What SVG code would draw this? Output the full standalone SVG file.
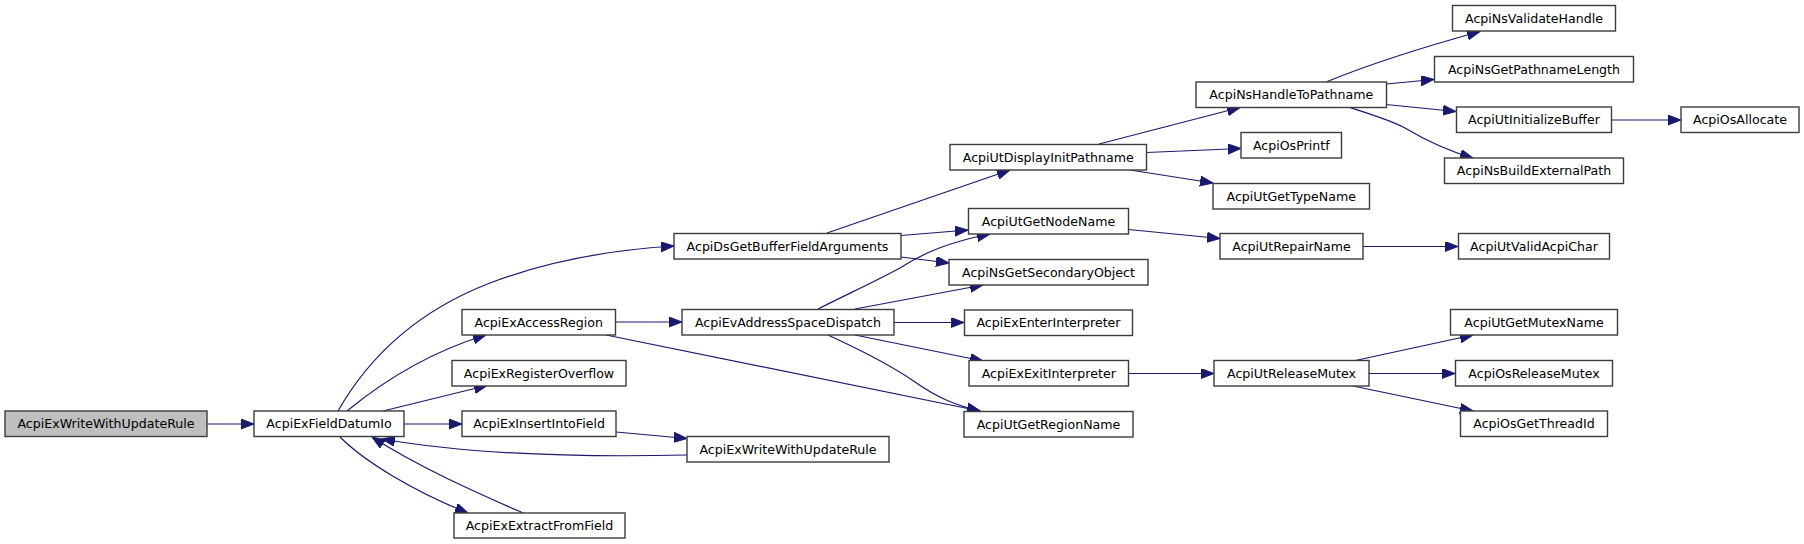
<svg xmlns="http://www.w3.org/2000/svg" width="1804" height="544" viewBox="0 0 1804 544">
<defs>
<marker id="ah" markerUnits="userSpaceOnUse" markerWidth="14" markerHeight="12" refX="13" refY="5" orient="auto">
<path d="M0,0 L13,5 L0,10 Z" fill="#191970" stroke="#191970" stroke-width="1"/>
</marker>
<style>
.n rect{fill:#ffffff;stroke:#3c3c3c;stroke-width:1.4}
.n.root rect{fill:#bfbfbf}
.n text{font-family:"DejaVu Sans",sans-serif;font-size:12.6px;fill:#000;text-anchor:middle}
#edges path{fill:none;stroke:#191970;stroke-width:1.2;marker-end:url(#ah)}
</style>
</defs>
<rect width="1804" height="544" fill="#ffffff"/>
<g id="edges">
<path d="M207,424 L254,424"/>
<path d="M338,411 C370,355 420,310 490,283 C550,260 610,250 674,246"/>
<path d="M347,411 C375,388 420,355 486,335"/>
<path d="M383,411 L487,385.5"/>
<path d="M404,424 L462,424"/>
<path d="M687,455 C600,457 480,456 382,439"/>
<path d="M340,437 C365,462 415,492 468,513"/>
<path d="M523,513 C480,494 420,468 372,437"/>
<path d="M616,432 L687,438.5"/>
<path d="M615.5,322 L682,322"/>
<path d="M606,335 L980,411"/>
<path d="M828,335 C865,352 895,368 915,382 C938,398 955,405 980,411"/>
<path d="M855,335 L983,361"/>
<path d="M894,322.5 L964,322.5"/>
<path d="M855,309 L983,285"/>
<path d="M818,309 C850,293 878,280 900,268 C925,252 950,242 990,234"/>
<path d="M827,233 L1010,170"/>
<path d="M901,235.5 L968,230"/>
<path d="M901,257 L949,263"/>
<path d="M1099,144 L1240,107.5"/>
<path d="M1146.5,152.5 L1241,148.5"/>
<path d="M1130,170 L1213,183"/>
<path d="M1128.5,229.5 L1220,238.5"/>
<path d="M1363,246.5 L1458,246.5"/>
<path d="M1128.5,373.5 L1214,373.5"/>
<path d="M1353,361 L1473,335"/>
<path d="M1369,373.5 L1455,373.5"/>
<path d="M1353,386 L1473,411"/>
<path d="M1326,82 C1370,64 1420,48 1480,31.5"/>
<path d="M1386,84 L1434,79.5"/>
<path d="M1386,104.5 L1456,111.5"/>
<path d="M1348,107 C1370,114 1390,120 1405,128 C1425,140 1445,150 1473,158"/>
<path d="M1611,120 L1681,120"/>
</g>
<g id="root" class="n root"><rect x="5" y="411" width="202" height="25.5"/><text x="106" y="428">AcpiExWriteWithUpdateRule</text></g>
<g id="fieldDatumIo" class="n"><rect x="254" y="411" width="150" height="25.5"/><text x="329" y="428">AcpiExFieldDatumIo</text></g>
<g id="dsGetBufferFieldArguments" class="n"><rect x="674" y="233.5" width="227" height="25.5"/><text x="787.5" y="250.5">AcpiDsGetBufferFieldArguments</text></g>
<g id="exAccessRegion" class="n"><rect x="462" y="309.5" width="153.5" height="25.5"/><text x="538.75" y="326.5">AcpiExAccessRegion</text></g>
<g id="exRegisterOverflow" class="n"><rect x="452" y="360.5" width="174" height="25.5"/><text x="539" y="377.5">AcpiExRegisterOverflow</text></g>
<g id="exInsertIntoField" class="n"><rect x="462" y="411" width="154" height="25.5"/><text x="539" y="428">AcpiExInsertIntoField</text></g>
<g id="exExtractFromField" class="n"><rect x="454" y="513" width="171" height="25"/><text x="539.5" y="530">AcpiExExtractFromField</text></g>
<g id="exWriteWithUpdateRule2" class="n"><rect x="687" y="436.5" width="202" height="25.5"/><text x="788" y="453.5">AcpiExWriteWithUpdateRule</text></g>
<g id="evAddressSpaceDispatch" class="n"><rect x="682" y="309.5" width="212" height="25.5"/><text x="788" y="326.5">AcpiEvAddressSpaceDispatch</text></g>
<g id="utDisplayInitPathname" class="n"><rect x="950" y="144.5" width="196.5" height="25.5"/><text x="1048.25" y="161.5">AcpiUtDisplayInitPathname</text></g>
<g id="utGetNodeName" class="n"><rect x="968.5" y="208.5" width="160" height="25.5"/><text x="1048.5" y="225.5">AcpiUtGetNodeName</text></g>
<g id="nsGetSecondaryObject" class="n"><rect x="949" y="259.5" width="199" height="25.5"/><text x="1048.5" y="276.5">AcpiNsGetSecondaryObject</text></g>
<g id="exEnterInterpreter" class="n"><rect x="964.5" y="310" width="168" height="25.5"/><text x="1048.5" y="327">AcpiExEnterInterpreter</text></g>
<g id="exExitInterpreter" class="n"><rect x="969" y="360.5" width="159.5" height="25.5"/><text x="1048.75" y="377.5">AcpiExExitInterpreter</text></g>
<g id="utGetRegionName" class="n"><rect x="964" y="411.5" width="169" height="25.5"/><text x="1048.5" y="428.5">AcpiUtGetRegionName</text></g>
<g id="nsHandleToPathname" class="n"><rect x="1196" y="82" width="190.5" height="25.5"/><text x="1291.25" y="99">AcpiNsHandleToPathname</text></g>
<g id="osPrintf" class="n"><rect x="1241" y="132.5" width="100.5" height="25.5"/><text x="1291.25" y="149.5">AcpiOsPrintf</text></g>
<g id="utGetTypeName" class="n"><rect x="1213" y="183.5" width="156.5" height="25.5"/><text x="1291.25" y="200.5">AcpiUtGetTypeName</text></g>
<g id="utRepairName" class="n"><rect x="1220" y="233.5" width="143" height="25.5"/><text x="1291.5" y="250.5">AcpiUtRepairName</text></g>
<g id="utReleaseMutex" class="n"><rect x="1214" y="360.5" width="155" height="25.5"/><text x="1291.5" y="377.5">AcpiUtReleaseMutex</text></g>
<g id="nsValidateHandle" class="n"><rect x="1452.5" y="5.5" width="163" height="25.5"/><text x="1534" y="22.5">AcpiNsValidateHandle</text></g>
<g id="nsGetPathnameLength" class="n"><rect x="1434.5" y="56.5" width="199" height="25.5"/><text x="1534" y="73.5">AcpiNsGetPathnameLength</text></g>
<g id="utInitializeBuffer" class="n"><rect x="1456.5" y="107" width="155" height="25.5"/><text x="1534" y="124">AcpiUtInitializeBuffer</text></g>
<g id="nsBuildExternalPath" class="n"><rect x="1444.5" y="158" width="179" height="25.5"/><text x="1534" y="175">AcpiNsBuildExternalPath</text></g>
<g id="osAllocate" class="n"><rect x="1681" y="107" width="118" height="25.5"/><text x="1740" y="124">AcpiOsAllocate</text></g>
<g id="utValidAcpiChar" class="n"><rect x="1458.5" y="233.5" width="151" height="25.5"/><text x="1534" y="250.5">AcpiUtValidAcpiChar</text></g>
<g id="utGetMutexName" class="n"><rect x="1450.5" y="309.5" width="167" height="25.5"/><text x="1534" y="326.5">AcpiUtGetMutexName</text></g>
<g id="osReleaseMutex" class="n"><rect x="1455.5" y="360.5" width="157" height="25.5"/><text x="1534" y="377.5">AcpiOsReleaseMutex</text></g>
<g id="osGetThreadId" class="n"><rect x="1460.5" y="411" width="147" height="25.5"/><text x="1534" y="428">AcpiOsGetThreadId</text></g>
</svg>
